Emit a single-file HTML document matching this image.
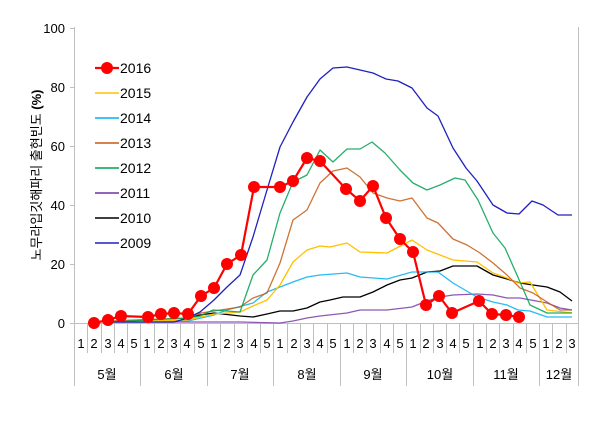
<!DOCTYPE html>
<html><head><meta charset="utf-8"><style>
html,body{margin:0;padding:0;background:#fff;}
svg{display:block;font-family:"Liberation Sans","Noto Sans CJK KR",sans-serif;}
</style></head><body>
<svg width="601" height="434" viewBox="0 0 601 434" xmlns="http://www.w3.org/2000/svg">
<rect width="601" height="434" fill="#fff"/>
<g stroke="#bfbfbf" stroke-width="1" fill="none">
<line x1="74.5" y1="27" x2="74.5" y2="386"/>
<line x1="578.5" y1="27" x2="578.5" y2="386"/>
<line x1="70" y1="323.5" x2="578" y2="323.5"/>
<line x1="70" y1="264.5" x2="74" y2="264.5"/>
<line x1="70" y1="205.5" x2="74" y2="205.5"/>
<line x1="70" y1="146.5" x2="74" y2="146.5"/>
<line x1="70" y1="87.5" x2="74" y2="87.5"/>
<line x1="70" y1="28.5" x2="74" y2="28.5"/>
<path d="M87.5 323v30M101.5 323v30M114.5 323v30M127.5 323v30M140.5 323v63M154.5 323v30M167.5 323v30M180.5 323v30M194.5 323v30M207.5 323v63M220.5 323v30M234.5 323v30M247.5 323v30M260.5 323v30M273.5 323v63M287.5 323v30M300.5 323v30M313.5 323v30M327.5 323v30M340.5 323v63M353.5 323v30M366.5 323v30M380.5 323v30M393.5 323v30M406.5 323v63M420.5 323v30M433.5 323v30M446.5 323v30M459.5 323v30M473.5 323v63M486.5 323v30M499.5 323v30M513.5 323v30M526.5 323v30M539.5 323v63M552.5 323v30M566.5 323v30"/>
</g>
<g font-size="13" fill="#000" text-anchor="end">
<text x="65" y="33">100</text><text x="65" y="92">80</text><text x="65" y="151">60</text><text x="65" y="210">40</text><text x="65" y="269">20</text><text x="65" y="328">0</text>
</g>
<text transform="translate(41,175) rotate(-90)" font-size="13" text-anchor="middle">노무라입깃해파리 출현빈도 <tspan font-weight="bold">(%)</tspan></text>
<g font-size="13" text-anchor="middle">
<text x="81" y="348">1</text><text x="94" y="348">2</text><text x="108" y="348">3</text><text x="121" y="348">4</text><text x="134" y="348">5</text>
<text x="147" y="348">1</text><text x="161" y="348">2</text><text x="174" y="348">3</text><text x="187" y="348">4</text><text x="201" y="348">5</text>
<text x="214" y="348">1</text><text x="227" y="348">2</text><text x="240" y="348">3</text><text x="254" y="348">4</text><text x="267" y="348">5</text>
<text x="280" y="348">1</text><text x="294" y="348">2</text><text x="307" y="348">3</text><text x="320" y="348">4</text><text x="333" y="348">5</text>
<text x="347" y="348">1</text><text x="360" y="348">2</text><text x="373" y="348">3</text><text x="387" y="348">4</text><text x="400" y="348">5</text>
<text x="413" y="348">1</text><text x="426" y="348">2</text><text x="440" y="348">3</text><text x="453" y="348">4</text><text x="466" y="348">5</text>
<text x="480" y="348">1</text><text x="493" y="348">2</text><text x="506" y="348">3</text><text x="519" y="348">4</text><text x="533" y="348">5</text>
<text x="546" y="348">1</text><text x="559" y="348">2</text><text x="572" y="348">3</text>
<text x="107" y="379">5월</text><text x="174" y="379">6월</text><text x="240" y="379">7월</text><text x="307" y="379">8월</text><text x="373" y="379">9월</text><text x="440" y="379">10월</text><text x="506" y="379">11월</text><text x="559" y="379">12월</text>
</g>
<g fill="none" stroke-width="1.3" stroke-linejoin="round">
<polyline stroke="#7030a0" stroke-opacity="0.8" points="108,322 188,322 240,322 280,323 293,321 307,318 320,316 347,313 360,310 387,310 412,307 427,301 440,297 453,295 477,294 493,295 507,298 520,298 547,303 560,308 572,310"/>
<polyline stroke="#000" points="108,322 174,322 188,318 200,315 214,313 240,316 253,317 267,314 280,311 293,311 307,308 320,302 330,300 343,297 360,297 373,292 387,285 400,280 412,278 427,272 440,271 453,266 477,266 493,275 507,279 520,283 533,285 547,287 560,292 572,301"/>
<polyline stroke="#00b0f0" stroke-opacity="0.85" points="108,322 188,321 214,315 227,310 253,303 267,292 280,287 293,282 307,277 320,275 347,273 360,277 387,279 412,272 438,272 453,283 477,297 493,302 507,305 518,310 530,311 547,317 572,317"/>
<polyline stroke="#ffc000" points="108,322 188,320 214,314 240,312 253,306 267,300 280,285 293,262 307,250 320,246 330,247 347,243 360,252 387,253 412,240 427,250 453,260 477,262 493,273 507,278 518,283 530,282 547,310 572,313"/>
<polyline stroke="#c55a11" stroke-opacity="0.85" points="108,321 188,318 201,313 214,311 240,307 253,298 267,293 280,263 293,220 307,210 320,183 333,171 347,168 360,177 373,193 387,198 400,201 412,198 427,218 438,223 453,239 467,245 480,253 493,263 507,275 520,288 533,293 547,302 560,310 572,310"/>
<polyline stroke="#00a050" stroke-opacity="0.85" points="108,322 188,318 200,316 213,310 240,312 253,275 267,260 280,213 293,182 307,175 320,150 333,162 347,149 360,149 372,142 385,153 400,170 413,183 427,190 440,185 455,178 465,180 478,200 493,233 505,248 517,275 530,305 547,313 572,313"/>
<polyline stroke="#2020c0" points="108,322 174,322 188,318 200,312 214,300 227,287 240,275 253,237 267,190 280,147 293,122 307,97 320,79 333,68 347,67 360,70 373,73 386,79 398,81 412,88 427,108 438,116 453,148 466,168 477,181 493,205 507,213 519,214 532,201 543,205 558,215 572,215"/>
</g>
<polyline fill="none" stroke="#ff0000" stroke-width="2.2" points="94,323 108,320 121,316 148,317 161,314 174,313 188,314 201,296 214,288 227,264 241,255 254,187 280,187 293,181 307,158 320,161 346,189 360,201 373,186 386,218 400,239 413,252 426,305 439,296 452,313 479,301 492,314 506,315 519,317"/>
<g fill="#ff0000">
<circle cx="94" cy="323" r="6"/><circle cx="108" cy="320" r="6"/><circle cx="121" cy="316" r="6"/><circle cx="148" cy="317" r="6"/><circle cx="161" cy="314" r="6"/><circle cx="174" cy="313" r="6"/><circle cx="188" cy="314" r="6"/><circle cx="201" cy="296" r="6"/><circle cx="214" cy="288" r="6"/><circle cx="227" cy="264" r="6"/><circle cx="241" cy="255" r="6"/><circle cx="254" cy="187" r="6"/><circle cx="280" cy="187" r="6"/><circle cx="293" cy="181" r="6"/><circle cx="307" cy="158" r="6"/><circle cx="320" cy="161" r="6"/><circle cx="346" cy="189" r="6"/><circle cx="360" cy="201" r="6"/><circle cx="373" cy="186" r="6"/><circle cx="386" cy="218" r="6"/><circle cx="400" cy="239" r="6"/><circle cx="413" cy="252" r="6"/><circle cx="426" cy="305" r="6"/><circle cx="439" cy="296" r="6"/><circle cx="452" cy="313" r="6"/><circle cx="479" cy="301" r="6"/><circle cx="492" cy="314" r="6"/><circle cx="506" cy="315" r="6"/><circle cx="519" cy="317" r="6"/>
</g>
<g stroke-width="1.5">
<line x1="95" y1="68" x2="119" y2="68" stroke="#ff0000" stroke-width="2.2"/><circle cx="107" cy="68" r="6" fill="#ff0000"/>
<line x1="95" y1="93" x2="119" y2="93" stroke="#ffc000"/>
<line x1="95" y1="118" x2="119" y2="118" stroke="#00b0f0"/>
<line x1="95" y1="143" x2="119" y2="143" stroke="#c55a11"/>
<line x1="95" y1="168" x2="119" y2="168" stroke="#00a050"/>
<line x1="95" y1="193" x2="119" y2="193" stroke="#7030a0"/>
<line x1="95" y1="218" x2="119" y2="218" stroke="#000"/>
<line x1="95" y1="243" x2="119" y2="243" stroke="#2020c0"/>
</g>
<g font-size="14">
<text x="120" y="73">2016</text><text x="120" y="98">2015</text><text x="120" y="123">2014</text><text x="120" y="148">2013</text><text x="120" y="173">2012</text><text x="120" y="198">2011</text><text x="120" y="223">2010</text><text x="120" y="248">2009</text>
</g>
</svg>
</body></html>
